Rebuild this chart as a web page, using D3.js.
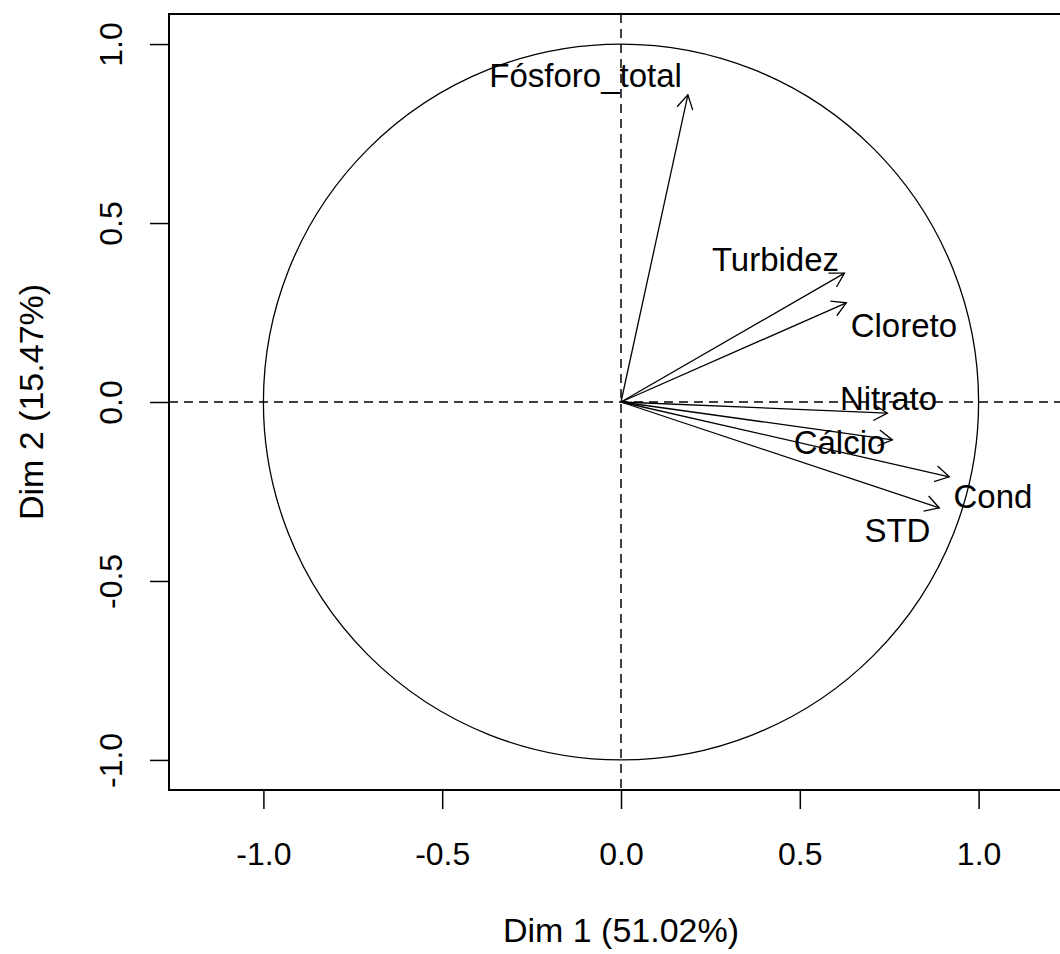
<!DOCTYPE html>
<html><head><meta charset="utf-8">
<script src="https://cdn.jsdelivr.net/npm/d3@7"></script>
<style>body{margin:0;background:#fff}svg{display:block;font-family:"Liberation Sans",Arial,sans-serif}</style>
</head><body><svg id="c" width="1060" height="954"></svg>
<script>
const variables = ["Fósforo_total", "Turbidez", "Cloreto", "Nitrato", "Cálcio", "Cond", "STD"];
const dim1 = [0.187, 0.625, 0.630, 0.745, 0.759, 0.918, 0.890];
const dim2 = [0.858, 0.360, 0.277, -0.031, -0.106, -0.209, -0.296];
const labelDim1 = [-0.099, 0.432, 0.791, 0.748, 0.611, 1.040, 0.773];
const labelDim2 = [0.911, 0.399, 0.215, 0.011, -0.112, -0.265, -0.358];
const tickValues = [-1, -0.5, 0, 0.5, 1];
const xTitle = "Dim 1 (51.02%)";
const yTitle = "Dim 2 (15.47%)";

const svg = d3.select("#c");
svg.append("rect").attr("width",1060).attr("height",954).attr("fill","#fff");
const box = {left:169, top:14, right:1073, bottom:790};
const x = d3.scaleLinear().domain([-1.264, 1.264]).range([box.left, box.right]);
const y = d3.scaleLinear().domain([-1.084, 1.084]).range([box.bottom, box.top]);

// dashed reference lines
svg.append("line").attr("x1", x(0)).attr("x2", x(0)).attr("y1", box.top).attr("y2", box.bottom)
  .attr("stroke","#000").attr("stroke-width",1.5).attr("stroke-dasharray","9,6");
svg.append("line").attr("x1", box.left).attr("x2", box.right).attr("y1", y(0)).attr("y2", y(0))
  .attr("stroke","#000").attr("stroke-width",1.5).attr("stroke-dasharray","9,6");

// unit circle
svg.append("ellipse").attr("cx", x(0)).attr("cy", y(0))
  .attr("rx", x(1) - x(0)).attr("ry", y(0) - y(1))
  .attr("fill","none").attr("stroke","#000").attr("stroke-width",1.3);

// arrows
const headLen = 16, headAng = Math.PI/6;
const arrows = svg.append("g").attr("stroke","#000").attr("stroke-width",1.3).attr("fill","none");
variables.forEach((v,i) => {
  const x0 = x(0), y0 = y(0), x1 = x(dim1[i]), y1 = y(dim2[i]);
  const a = Math.atan2(y1 - y0, x1 - x0);
  arrows.append("line").attr("x1",x0).attr("y1",y0).attr("x2",x1).attr("y2",y1);
  arrows.append("path").attr("d",
    `M${x1 - headLen*Math.cos(a - headAng)},${y1 - headLen*Math.sin(a - headAng)}L${x1},${y1}L${x1 - headLen*Math.cos(a + headAng)},${y1 - headLen*Math.sin(a + headAng)}`);
});

// labels
svg.append("g").selectAll("text").data(variables).join("text")
  .attr("x", (d,i) => x(labelDim1[i])).attr("y", (d,i) => y(labelDim2[i]))
  .attr("dy","0.35em").attr("text-anchor","middle").attr("font-size",33).attr("fill","#000")
  .text(d => d);

// box
svg.append("rect").attr("x", box.left).attr("y", box.top)
  .attr("width", box.right - box.left).attr("height", box.bottom - box.top)
  .attr("fill","none").attr("stroke","#000").attr("stroke-width",2);

// axes
const fmt = d => d.toFixed(1);
const gx = svg.append("g").attr("transform", `translate(0,${box.bottom})`)
  .call(d3.axisBottom(x).tickValues(tickValues).tickFormat(fmt).tickSize(19));
gx.select(".domain").remove();
gx.selectAll(".tick line").attr("stroke","#000").attr("stroke-width",1.5);
gx.selectAll(".tick text").attr("y", 75).attr("dy", 0).attr("font-size", 32)
  .attr("font-family", '"Liberation Sans",Arial,sans-serif').attr("fill","#000");

const gy = svg.append("g").attr("transform", `translate(${box.left},0)`)
  .call(d3.axisLeft(y).tickValues(tickValues).tickFormat(fmt).tickSize(19));
gy.select(".domain").remove();
gy.selectAll(".tick line").attr("stroke","#000").attr("stroke-width",1.5);
gy.selectAll(".tick text").attr("x", 0).attr("dy", 0).attr("text-anchor","middle")
  .attr("transform","translate(-47,0) rotate(-90)").attr("font-size", 32)
  .attr("font-family", '"Liberation Sans",Arial,sans-serif').attr("fill","#000");

// titles
svg.append("text").attr("x", x(0)).attr("y", 942).attr("text-anchor","middle")
  .attr("font-size", 34).attr("fill","#000").text(xTitle);
svg.append("text").attr("transform", `translate(43,${y(0)}) rotate(-90)`).attr("text-anchor","middle")
  .attr("font-size", 34).attr("fill","#000").text(yTitle);
</script></body></html>
